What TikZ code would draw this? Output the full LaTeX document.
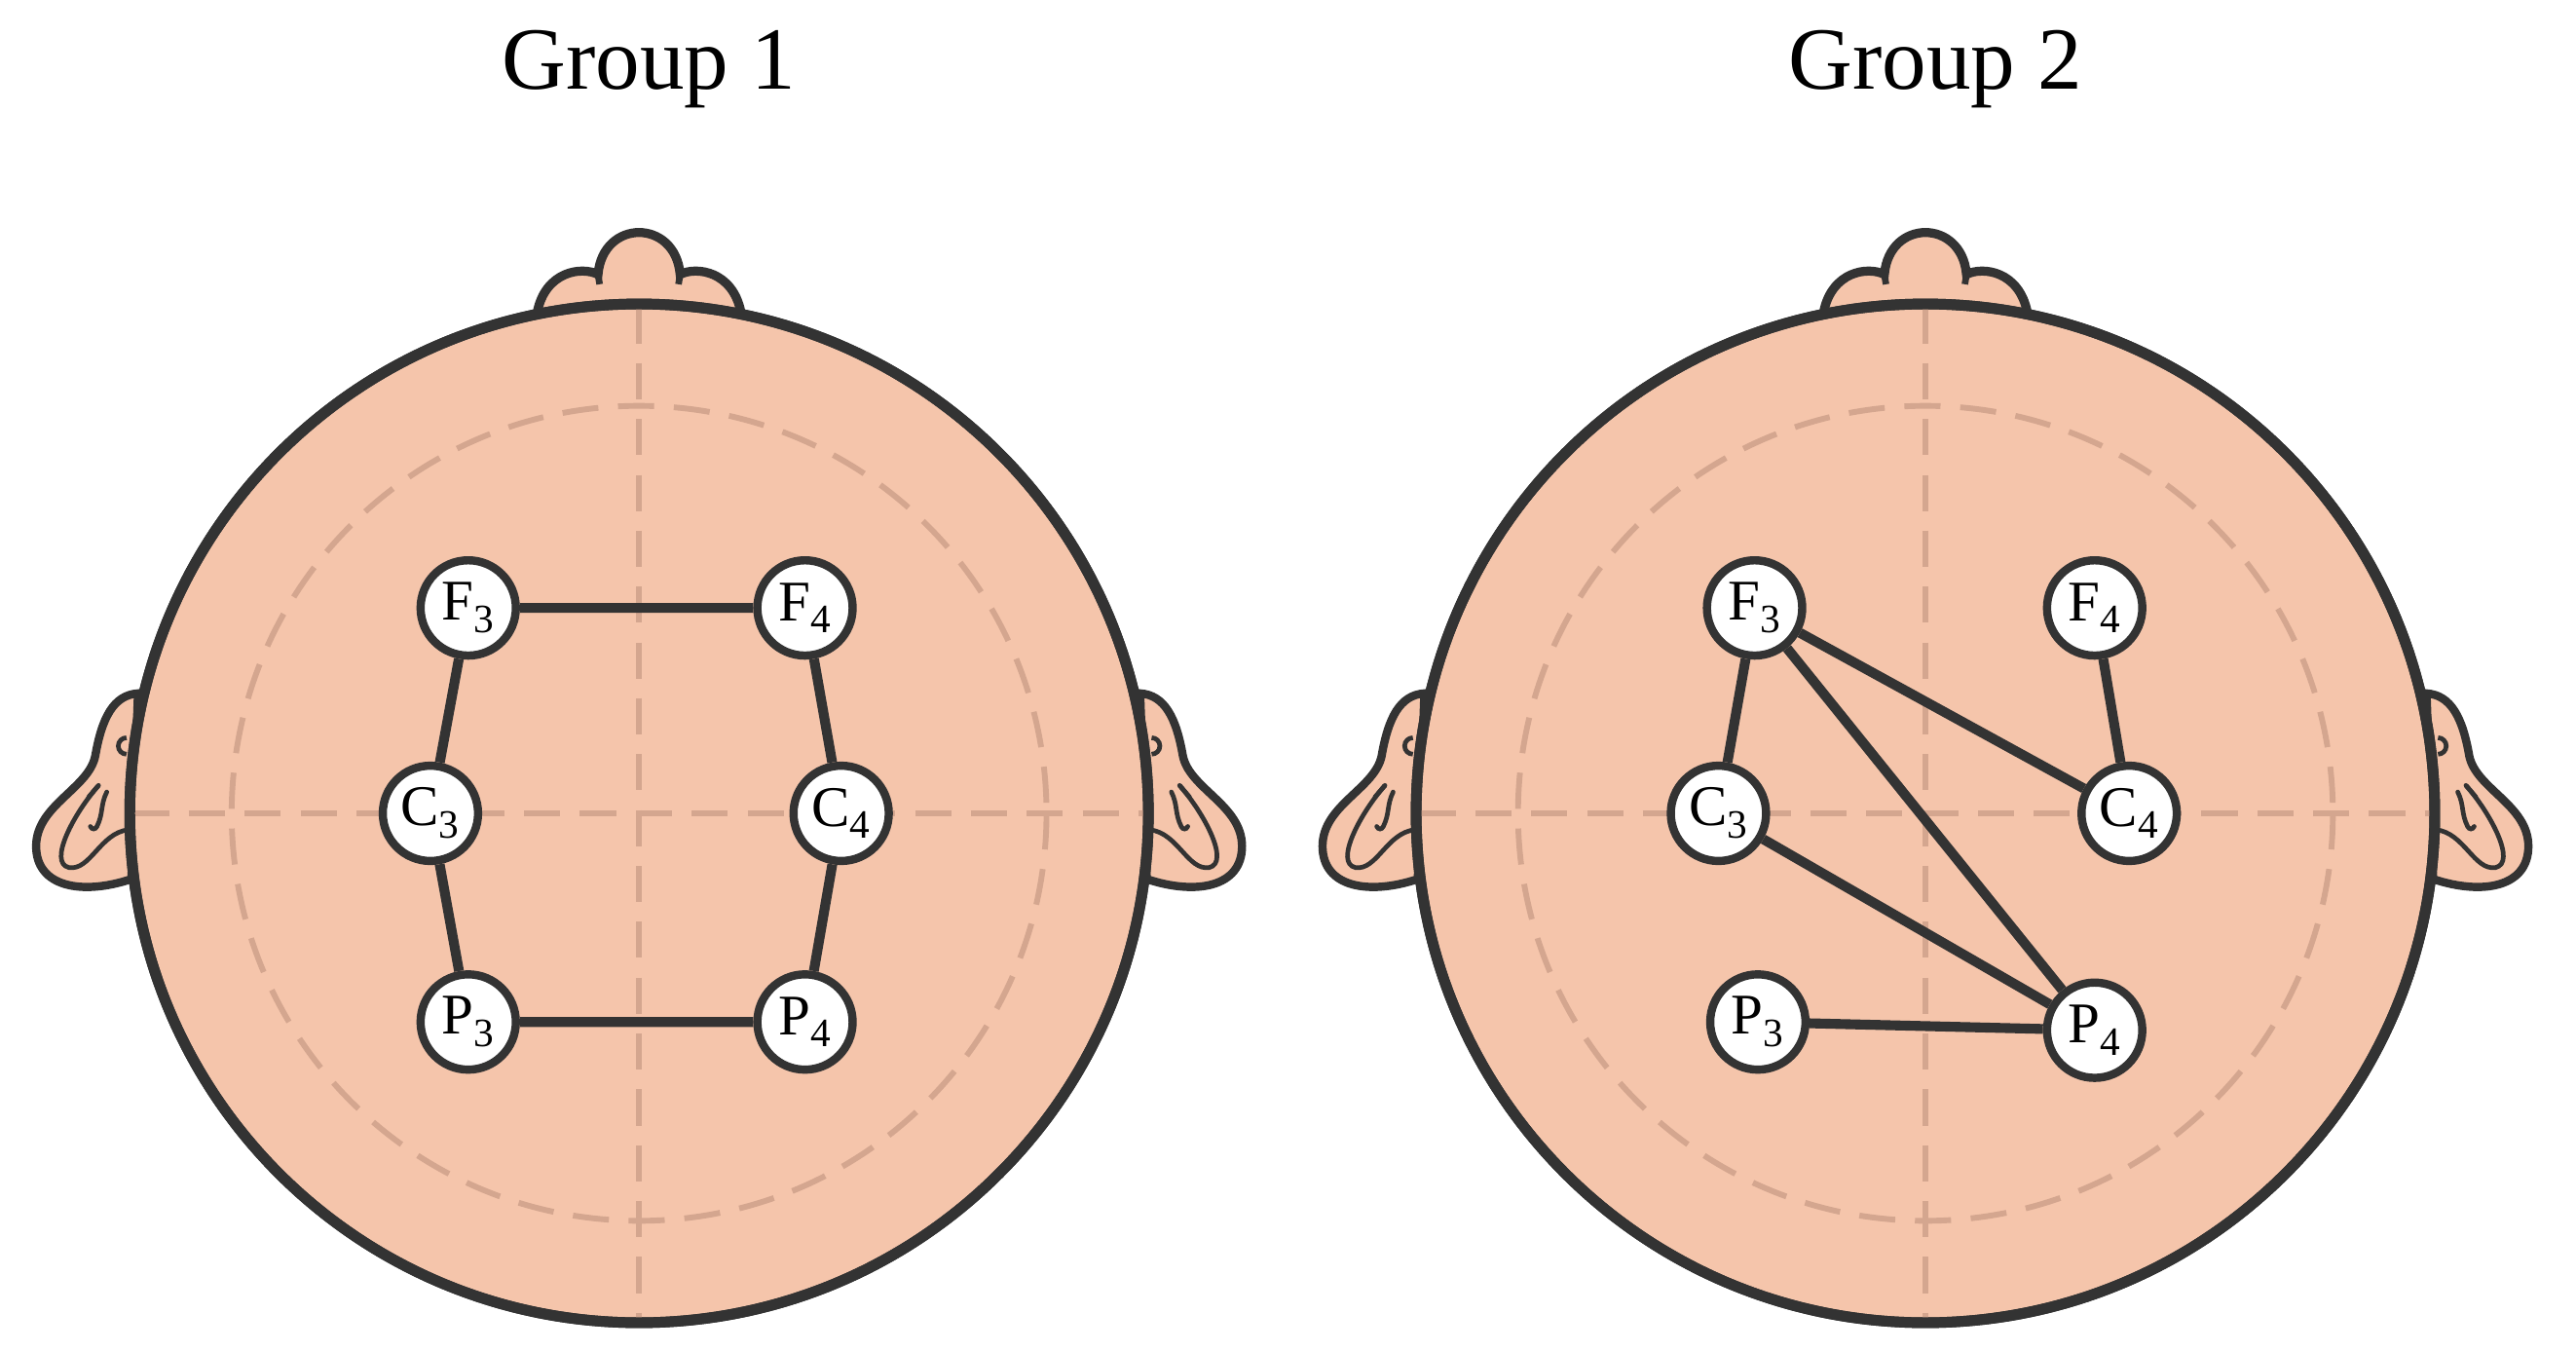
\documentclass[tikz,border=0pt]{standalone}
\usepackage{fontspec}
\setmainfont{Liberation Serif}
\definecolor{skin}{HTML}{F5C5AB}
\definecolor{ink}{HTML}{333333}
\definecolor{guide}{HTML}{D4A68F}
\begin{document}
\begin{tikzpicture}[x=1pt,y=-1pt,
  outline/.style={draw=ink,line width=6.5pt,fill=skin},
  guideline/.style={draw=guide,line width=3.5pt,dash pattern=on 22pt off 12pt},
  elec/.style={circle,draw=ink,fill=white,line width=5pt,minimum size=58pt,inner sep=0pt,font=\fontsize{35}{35}\selectfont},
  link/.style={draw=ink,line width=6pt},
  title/.style={font=\fontsize{54}{54}\selectfont}]
\useasboundingbox (0,0) rectangle (1568,822);
\newcommand{\headdraw}[1]{%
\begin{scope}[shift={(#1,0)}]
 \foreach \s in {1,-1}{
 \begin{scope}[xscale=\s]
  \path[outline,line width=5pt] (-305,-73) .. controls (-320,-72) and (-327,-58) .. (-331,-35) .. controls (-335,-15) and (-367,-5) .. (-367,20) .. controls (-367,45) and (-339,50) .. (-309,40) -- cycle;
  \draw[ink,line width=2.8pt] (-329,-17) .. controls (-344,0) and (-360,30) .. (-347,33) .. controls (-334,35) and (-328,12) .. (-311,10);
  \draw[ink,line width=2.8pt,line cap=round] (-324,-13) .. controls (-328,-5) and (-326,0) .. (-330,8) .. controls (-331,10) and (-333,10) .. (-334,8);
  \draw[ink,line width=2.8pt,line cap=round] (-329,-17) -- (-335,-10);
  \draw[ink,line width=2.8pt] (-312,-36) arc (90:270:5);
 \end{scope}}
 \path[outline,line width=5.5pt] (-62,-305) .. controls (-57,-330) and (-35,-333) .. (-25,-328) .. controls (-22,-362) and (22,-362) .. (25,-328) .. controls (35,-333) and (57,-330) .. (62,-305) -- cycle;
 \draw[ink,line width=4pt] (-25,-328) -- (-24,-322) (25,-328) -- (24,-322);
 \path[outline] (0,0) circle (310);
 \path[guideline] (0,-308) -- (0,308) (-308,0) -- (308,0);
 \path[guideline] (0,0) circle (248);
 \draw[ink,line width=6.5pt] (0,0) circle (310);
\end{scope}}
\begin{scope}[shift={(0,495)}]
\headdraw{389}
\headdraw{1172}
\end{scope}
\node[title] (t1) at (395,42) {Group 1};
\node[title] (t2) at (1178,42) {Group 2};
\node[elec] (aF3) at (285,370) {F\textsubscript{3}};
\node[elec] (aF4) at (490,370) {F\textsubscript{4}};
\node[elec] (aC3) at (262,495) {C\textsubscript{3}};
\node[elec] (aC4) at (512,495) {C\textsubscript{4}};
\node[elec] (aP3) at (285,622) {P\textsubscript{3}};
\node[elec] (aP4) at (490,622) {P\textsubscript{4}};
\draw[link] (aF3)--(aF4) (aF3)--(aC3) (aC3)--(aP3) (aP3)--(aP4) (aF4)--(aC4) (aC4)--(aP4);
\node[elec] (bF3) at (1068,370) {F\textsubscript{3}};
\node[elec] (bF4) at (1275,370) {F\textsubscript{4}};
\node[elec] (bC3) at (1046,495) {C\textsubscript{3}};
\node[elec] (bC4) at (1296,495) {C\textsubscript{4}};
\node[elec] (bP3) at (1070,622) {P\textsubscript{3}};
\node[elec] (bP4) at (1275,627) {P\textsubscript{4}};
\draw[link] (bF3)--(bC3) (bF3)--(bC4) (bF3)--(bP4) (bF4)--(bC4) (bC3)--(bP4) (bP3)--(bP4);
\end{tikzpicture}
\end{document}
